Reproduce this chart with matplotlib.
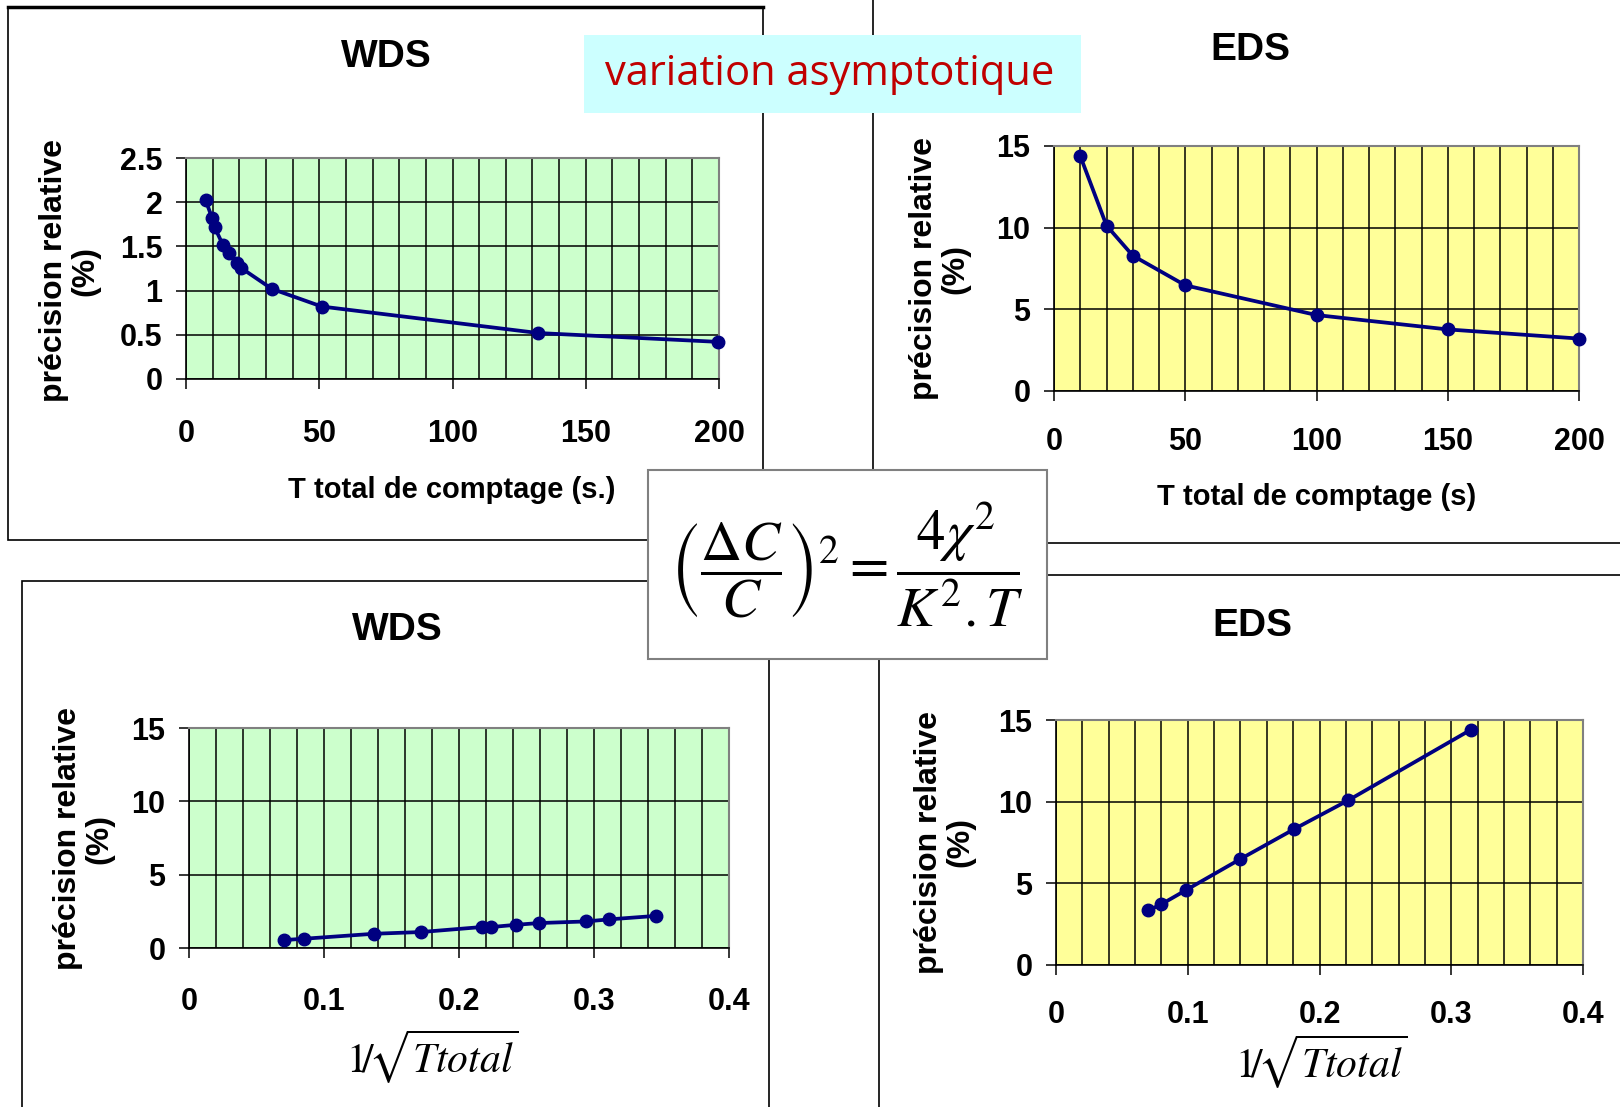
import matplotlib
matplotlib.use("Agg")
import matplotlib.pyplot as plt
from matplotlib.ticker import MultipleLocator

# data
wds_t = [7.4, 9.8, 10.7, 13.8, 16.2, 19.2, 20.5, 32.2, 50.9, 132.2, 199.7]
wds_prec = [2.02, 1.82, 1.72, 1.52, 1.42, 1.31, 1.26, 1.02, 0.82, 0.52, 0.42]
eds_t = [10, 20, 30, 50, 100, 150, 200]
eds_prec = [14.39, 10.13, 8.29, 6.47, 4.65, 3.77, 3.21]
wds_inv = [0.070, 0.085, 0.137, 0.172, 0.217, 0.224, 0.242, 0.259, 0.294, 0.311, 0.346]
wds_prec_inv = [0.54, 0.63, 0.97, 1.09, 1.43, 1.43, 1.58, 1.70, 1.81, 1.95, 2.19]
eds_inv = [0.070, 0.080, 0.099, 0.140, 0.181, 0.222, 0.315]
eds_prec_inv = [3.34, 3.72, 4.60, 6.49, 8.33, 10.09, 14.41]

t_ticks = [0, 50, 100, 150, 200]
t_labels = ["0", "50", "100", "150", "200"]
inv_ticks = [0, 0.1, 0.2, 0.3, 0.4]
inv_labels = ["0", "0.1", "0.2", "0.3", "0.4"]
wds_y_ticks = [0, 0.5, 1, 1.5, 2, 2.5]
wds_y_labels = ["0", "0.5", "1", "1.5", "2", "2.5"]
big_y_ticks = [0, 5, 10, 15]
big_y_labels = ["0", "5", "10", "15"]

W, H = 1620, 1107
plt.rcParams['font.family'] = ['Liberation Sans', 'DejaVu Sans']
plt.rcParams['mathtext.fontset'] = 'stix'

fig = plt.figure(figsize=(W / 100, H / 100), dpi=100)


def rect(l, t, r, b):
    return [l / W, 1 - b / H, (r - l) / W, (b - t) / H]


def ftext(x, y, s, **kw):
    return fig.text(x / W, 1 - y / H, s, ha='center', va='center', **kw)


def panel(box, x, y, bg, xlim, xticks, xlabels, xminor, ylim, yticks, ylabels, xpad):
    ax = fig.add_axes(rect(*box))
    ax.set_facecolor(bg)
    ax.plot(x, y, '-o', color='#000080', lw=2.7, ms=9, clip_on=False, zorder=5)
    ax.set_xlim(xlim)
    ax.set_ylim(ylim)
    ax.set_xticks(xticks)
    ax.set_xticklabels(xlabels, fontsize=22, fontweight='bold')
    ax.set_yticks(yticks)
    ax.set_yticklabels(ylabels, fontsize=22, fontweight='bold')
    ax.xaxis.set_minor_locator(MultipleLocator(xminor))
    ax.tick_params(axis='x', which='major', direction='out', length=7, width=1.1, pad=xpad)
    ax.tick_params(axis='x', which='minor', length=0)
    ax.tick_params(axis='y', direction='out', length=7, width=1.1, pad=10)
    ax.grid(True, axis='x', which='both', color='black', lw=1.1)
    ax.grid(True, axis='y', which='major', color='black', lw=1.1)
    ax.set_axisbelow(True)
    for s in ['top', 'right']:
        ax.spines[s].set_color('#808080')
        ax.spines[s].set_linewidth(1.5)
    for s in ['left', 'bottom']:
        ax.spines[s].set_color('black')
        ax.spines[s].set_linewidth(1.2)
    return ax


# panel frames
frames = [(8, 7, 763, 540), (873, -20, 1700, 543), (22, 581, 769, 1200), (879, 575, 1700, 1200)]
for l, t, r, b in frames:
    fig.patches.append(plt.Rectangle((l / W, 1 - b / H), (r - l) / W, (b - t) / H,
                                     transform=fig.transFigure, fill=False,
                                     edgecolor='black', lw=1.2, zorder=1))
fig.lines.append(plt.Line2D([8 / W, 763 / W], [1 - 7 / H, 1 - 7 / H],
                            transform=fig.transFigure, color='black', lw=2.5, zorder=1))

panel((186, 158, 719, 379), wds_t, wds_prec, '#CCFFCC', (0, 200), t_ticks, t_labels, 10,
      (0, 2.5), wds_y_ticks, wds_y_labels, 22)
panel((1054, 146, 1579, 391), eds_t, eds_prec, '#FFFF99', (0, 200), t_ticks, t_labels, 10,
      (0, 15), big_y_ticks, big_y_labels, 19)
panel((189, 728, 729, 948), wds_inv, wds_prec_inv, '#CCFFCC', (0, 0.4), inv_ticks, inv_labels, 0.02,
      (0, 15), big_y_ticks, big_y_labels, 21)
panel((1056, 720, 1583, 965), eds_inv, eds_prec_inv, '#FFFF99', (0, 0.4), inv_ticks, inv_labels, 0.02,
      (0, 15), big_y_ticks, big_y_labels, 18)

# titles
bold = dict(fontweight='bold')
ftext(386, 57, "WDS", fontsize=28, **bold)
ftext(1250, 50, "EDS", fontsize=28, **bold)
ftext(397, 630, "WDS", fontsize=28, **bold)
ftext(1252, 626, "EDS", fontsize=28, **bold)

# axis labels
ylab = "précision relative\n(%)"
for x, y in [(70, 271), (940, 269), (84, 839), (945, 842)]:
    ftext(x, y, ylab, fontsize=23, rotation=90, multialignment='center', linespacing=1.05, **bold)
ftext(452, 490, "T total de comptage (s.)", fontsize=21, **bold)
ftext(1317, 497, "T total de comptage (s)", fontsize=21, **bold)
inv_lab = r"$1\!/\!\sqrt{Ttotal}$"
ftext(432, 1057, inv_lab, fontsize=30)
ftext(1321, 1062, inv_lab, fontsize=30)

# title box
fig.patches.append(plt.Rectangle((584 / W, 1 - 113 / H), (1081 - 584) / W, (113 - 35) / H,
                                 transform=fig.transFigure, facecolor='#CCFFFF',
                                 edgecolor='none', zorder=5))
ftext(830, 74, "variation asymptotique", fontsize=30, color='#C00000',
      family='Open Sans', zorder=6)

# formula box
fig.patches.append(plt.Rectangle((648 / W, 1 - 659 / H), (1047 - 648) / W, (659 - 470) / H,
                                 transform=fig.transFigure, facecolor='white',
                                 edgecolor='#808080', lw=1.5, zorder=5))
ftext(847, 565, r"$\left(\dfrac{\Delta C}{C}\right)^2 = \dfrac{4\chi^2}{K^2.T}$",
      fontsize=41, zorder=6)

fig.savefig("out.png", dpi=100)
